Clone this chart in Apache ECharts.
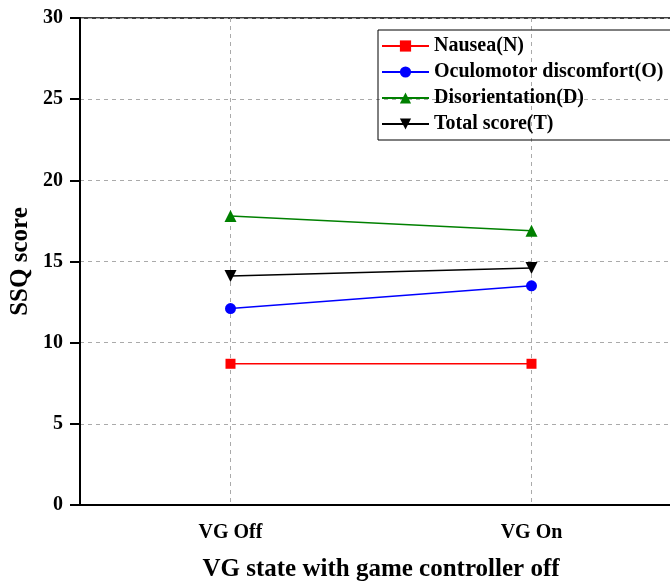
<!DOCTYPE html>
<html>
<head>
<meta charset="utf-8">
<script src="https://cdn.jsdelivr.net/npm/echarts@6/dist/echarts.min.js"></script>
<style>html,body{margin:0;padding:0;background:#fff;}#c{width:670px;height:585px;}</style>
</head>
<body>
<div id="c"></div>
<script>
const categories = ['VG Off', 'VG On'];
const nausea = [8.7, 8.7];
const oculomotor = [12.1, 13.5];
const disorientation = [17.8, 16.9];
const total = [14.1, 14.6];
const yTicks = [0, 5, 10, 15, 20, 25, 30];

const FONT = '"Liberation Serif", "Times New Roman", serif';
const chart = echarts.init(document.getElementById('c'), null, {renderer: 'canvas'});

function mkSeries(name, data, color, symbol, size, rotate) {
  return {
    name: name, type: 'line', data: data,
    symbol: symbol, symbolSize: size, symbolRotate: rotate || 0,
    lineStyle: {color: color, width: 1.5},
    itemStyle: {color: color},
    emphasis: {disabled: true},
    animation: false
  };
}

chart.setOption({
  backgroundColor: '#fff',
  animation: false,
  grid: {left: 80, width: 602, top: 18, bottom: 80, containLabel: false, outerBoundsMode: 'none',
         show: true, borderColor: '#000', borderWidth: 1.5, backgroundColor: 'transparent'},
  legend: {
    orient: 'vertical', left: 378, top: 30,
    borderColor: '#000', borderWidth: 1, padding: [6, 20, 6, 3],
    itemWidth: 47, itemHeight: 14, itemGap: 6,
    textStyle: {fontFamily: FONT, fontWeight: 'bold', fontSize: 20, color: '#000', lineHeight: 20},
    data: ['Nausea(N)', 'Oculomotor discomfort(O)', 'Disorientation(D)', 'Total score(T)']
  },
  xAxis: {
    type: 'category', data: categories, boundaryGap: true,
    name: 'VG state with game controller off', nameLocation: 'middle', nameGap: 52,
    nameTextStyle: {fontFamily: FONT, fontWeight: 'bold', fontSize: 25, color: '#000'},
    axisLine: {lineStyle: {color: '#000', width: 2}},
    axisTick: {alignWithLabel: true, length: 10, lineStyle: {color: '#000', width: 2}},
    axisLabel: {fontFamily: FONT, fontWeight: 'bold', fontSize: 20, color: '#000', margin: 18},
    splitLine: {show: true, alignWithLabel: true, lineStyle: {color: '#aaa', type: [4, 4], width: 1}}
  },
  yAxis: {
    type: 'value', min: yTicks[0], max: yTicks[yTicks.length - 1], interval: 5,
    name: 'SSQ score', nameLocation: 'middle', nameGap: 47, nameMoveOverlap: false,
    nameTextStyle: {fontFamily: FONT, fontWeight: 'bold', fontSize: 25, color: '#000'},
    axisLine: {show: true, lineStyle: {color: '#000', width: 2}},
    axisTick: {show: true, length: 10, lineStyle: {color: '#000', width: 2}},
    axisLabel: {fontFamily: FONT, fontWeight: 'bold', fontSize: 20, color: '#000', margin: 17},
    splitLine: {show: true, lineStyle: {color: '#aaa', type: [4, 4], width: 1}}
  },
  series: [
    mkSeries('Nausea(N)', nausea, '#ff0000', 'rect', 10),
    mkSeries('Oculomotor discomfort(O)', oculomotor, '#0000ff', 'circle', 11),
    mkSeries('Disorientation(D)', disorientation, '#008000', 'triangle', 12),
    mkSeries('Total score(T)', total, '#000000', 'triangle', 12, 180)
  ]
});
</script>
</body>
</html>
